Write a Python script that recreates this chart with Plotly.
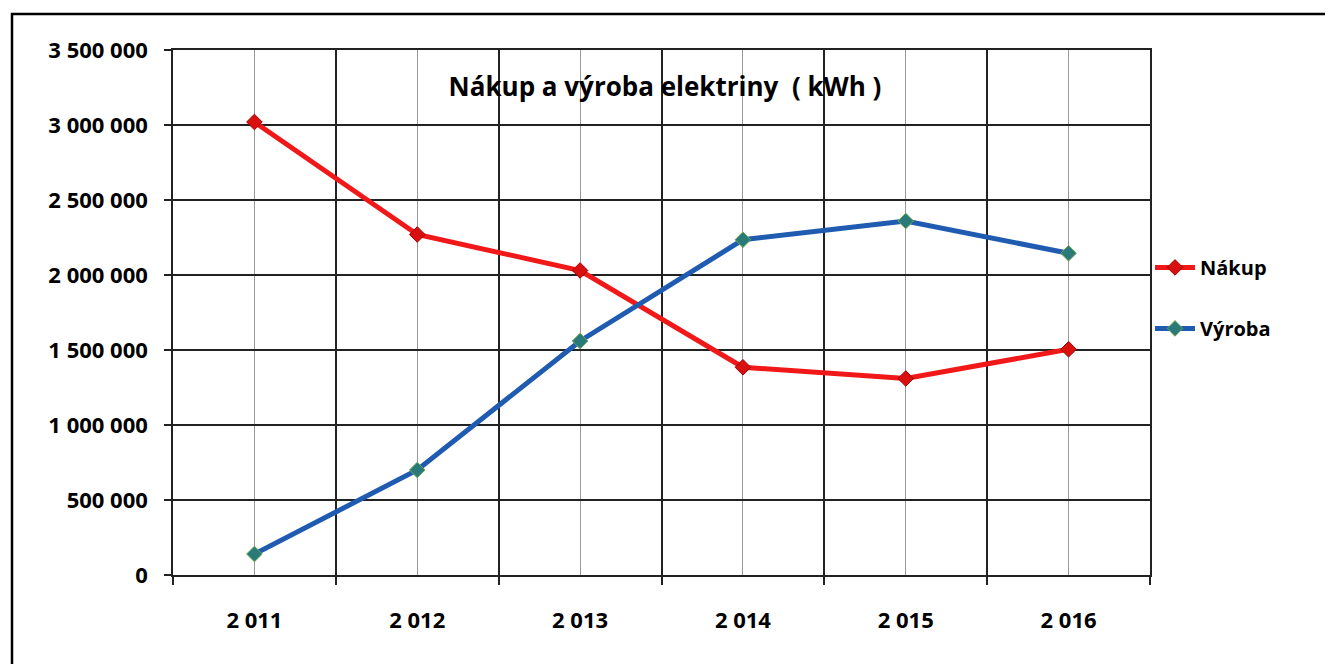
import plotly.graph_objects as go

years = [2011, 2012, 2013, 2014, 2015, 2016]
year_labels = ["2 011", "2 012", "2 013", "2 014", "2 015", "2 016"]
nakup = [3020000, 2270000, 2030000, 1385000, 1310000, 1505000]
vyroba = [140000, 700000, 1560000, 2235000, 2360000, 2145000]
y_ticks = [0, 500000, 1000000, 1500000, 2000000, 2500000, 3000000, 3500000]

FONT = "Open Sans"
# page body has an 8px offset; plot area targets page x 173..1150, y 50..575
L, T = 165, 42
PW, PH = 977, 525

fig = go.Figure()
fig.add_trace(go.Scatter(
    x=years, y=nakup, name="Nákup", mode="lines+markers",
    line=dict(color="#f01818", width=5),
    marker=dict(symbol="diamond", size=12, color="#d81010",
                line=dict(color="#a00000", width=1)),
    legendgroup="a",
))
fig.add_trace(go.Scatter(
    x=years, y=vyroba, name="Výroba", mode="lines+markers",
    line=dict(color="#1f5bb0", width=5),
    marker=dict(symbol="diamond", size=12, color="#2a7a7a",
                line=dict(color="#6aa84f", width=1)),
    legendgroup="b",
))

fig.update_layout(
    width=1333, height=664,
    margin=dict(l=L, r=1333 - L - PW, t=T, b=664 - T - PH),
    paper_bgcolor="white", plot_bgcolor="white",
    separators=". ",
    font=dict(family=FONT, size=20, color="black"),
    title=dict(text="<b>Nákup a výroba elektriny  ( kWh )</b>",
               x=(665 - 173) / PW, xref="paper", xanchor="center",
               y=1 - 79 / 664, yref="container", yanchor="middle",
               font=dict(family=FONT, size=26, color="black")),
    showlegend=True,
    legend=dict(x=1.0, y=0.623, xanchor="left", yanchor="top",
                font=dict(family=FONT, size=20, color="black", weight="bold"),
                bgcolor="rgba(0,0,0,0)", tracegroupgap=32,
                itemwidth=40),
    shapes=[dict(type="rect", xref="paper", yref="paper",
                 x0=(12 - 173) / PW, x1=(1345 - 173) / PW,
                 y0=(575 - 680) / PH, y1=(575 - 14) / PH,
                 line=dict(color="black", width=2.5), layer="below")],
)

fig.update_xaxes(
    range=[2010.5, 2016.5], tickmode="array", tickvals=years, ticktext=year_labels,
    showgrid=True, gridcolor="#9a9a9a", gridwidth=1,
    ticks="", showline=True, linecolor="#222", linewidth=1.5, mirror=True,
    tickfont=dict(family=FONT, size=22, color="black", weight="bold"),
    ticklabelstandoff=25,
    minor=dict(tick0=2010.5, dtick=1, showgrid=True, gridcolor="#222",
               gridwidth=1.5, ticks="outside", ticklen=8, tickcolor="#222",
               tickwidth=1.5),
    zeroline=False,
)
fig.update_yaxes(
    range=[0, 3500000], tickmode="array", tickvals=y_ticks, tickformat=",d",
    showgrid=True, gridcolor="#222", gridwidth=1.5,
    ticks="outside", ticklen=7, tickcolor="#222", tickwidth=1.5,
    showline=True, linecolor="#222", linewidth=1.5, mirror=True,
    tickfont=dict(family=FONT, size=22, color="black", weight="bold"),
    ticklabelstandoff=12, zeroline=False,
)

fig.write_html("out.html")
